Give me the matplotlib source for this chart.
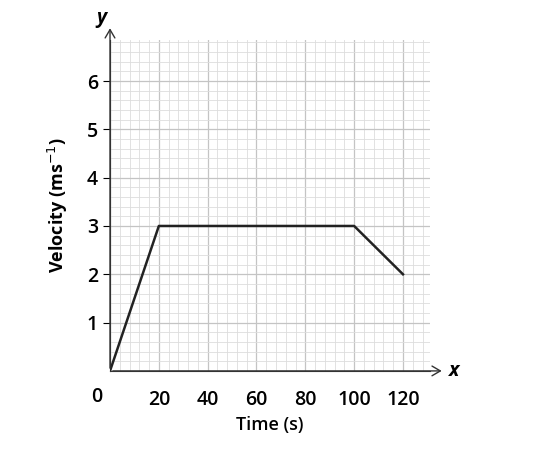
import matplotlib
matplotlib.use("Agg")
import matplotlib.pyplot as plt
import numpy as np

time_s = [0, 20, 100, 120]
velocity = [0, 3, 3, 2]
xticks = [20, 40, 60, 80, 100, 120]
yticks = [1, 2, 3, 4, 5, 6]

plt.rcParams['font.family'] = ['Open Sans', 'DejaVu Sans']
fig = plt.figure(figsize=(5.43, 4.54), dpi=100)
ax = fig.add_axes([0.2026, 0.183, 0.589, 0.729])
xmax, ymax = 131, 6.85
for x in np.arange(0, xmax, 4):
    ax.axvline(x, color='#dddddd' if x % 20 else '#c4c4c4', lw=0.6 if x % 20 else 0.9, zorder=0)
for y in np.arange(0, ymax, 0.2):
    major = abs(y - round(y)) < 1e-6
    ax.axhline(y, color='#c4c4c4' if major else '#dddddd', lw=0.9 if major else 0.6, zorder=0)
ax.plot(time_s, velocity, color='#222222', lw=1.8, zorder=3)
ax.set_xlim(0, xmax); ax.set_ylim(0, ymax)
for s in ['top', 'right']:
    ax.spines[s].set_visible(False)
for s in ['left', 'bottom']:
    ax.spines[s].set_color('#333333')
ap = dict(arrowstyle='->,head_length=0.6,head_width=0.35', color='#333333', lw=1)
ax.annotate('', xy=(137, 0), xytext=(0, 0), arrowprops=ap, annotation_clip=False)
ax.annotate('', xy=(0, 7.15), xytext=(0, 0), arrowprops=ap, annotation_clip=False)
ax.text(139, 0, 'x', fontsize=14, fontstyle='italic', fontweight='bold', va='center', ha='left')
ax.text(-3.5, 7.3, 'y', fontsize=14, fontstyle='italic', fontweight='bold', va='center', ha='center')
ax.set_xticks(xticks); ax.set_yticks(yticks)
ax.tick_params(axis='x', length=0, pad=14, labelsize=14)
ax.tick_params(axis='y', length=5, direction='out', labelsize=14)
for lab in ax.get_xticklabels() + ax.get_yticklabels():
    lab.set_fontweight('semibold')
ax.text(-5.5, -0.55, '0', fontsize=14, ha='center', va='center', fontweight='semibold')
ax.set_xlabel('Time (s)', fontsize=13, fontweight='semibold')
ax.set_ylabel('Velocity (ms$^{-1}$)', fontsize=13, fontweight='bold', labelpad=12)
fig.savefig('out.png', dpi=100)
